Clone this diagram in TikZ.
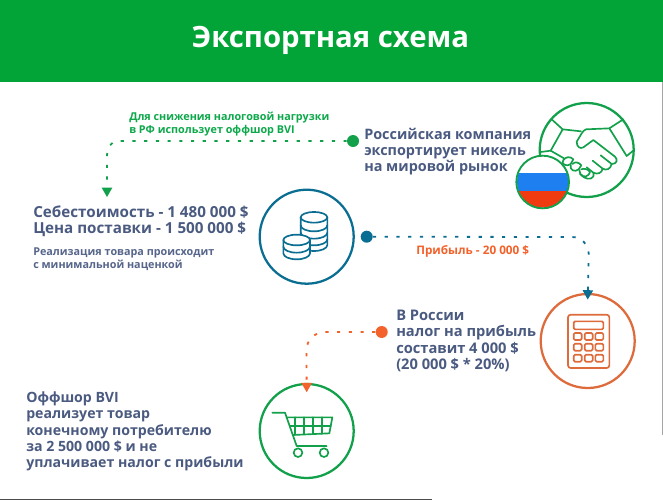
\documentclass[tikz,border=0pt]{standalone}
\usepackage{fontspec}
\usetikzlibrary{arrows.meta}
\setmainfont{Open Sans}
\definecolor{hdr}{HTML}{02A437}
\definecolor{gr}{HTML}{12A04A}
\definecolor{grt}{HTML}{0CA84A}
\definecolor{bl}{HTML}{0A6E92}
\definecolor{org}{HTML}{DE6B3C}
\definecolor{orgd}{HTML}{F4622C}
\definecolor{slate}{HTML}{4A5A80}
\definecolor{slatel}{HTML}{56658A}
\definecolor{flagb}{HTML}{1E80F0}
\definecolor{flagr}{HTML}{F03A10}
\tikzset{
 ring/.style={circle,draw=#1,line width=1.7pt,minimum size=70.5pt,inner sep=0pt,fill=white},
 dotn/.style={circle,fill=#1,minimum size=9pt,inner sep=0pt},
 link/.style={draw=#1,line width=1.35pt,dash pattern=on 2.4pt off 6.4pt,line cap=butt,
   -{Triangle[width=8pt,length=7pt,line width=0pt,fill=#1,color=#1]}},
 big/.style={anchor=west,align=left,inner sep=0pt,font=\fontsize{#1pt}{12.2pt}\selectfont\bfseries,text=slate},
 small/.style={anchor=west,align=left,inner sep=0pt,font=\fontsize{#1pt}{9.8pt}\selectfont\bfseries},
 icon/.style={line width=1.25pt,line join=round,line cap=round},
}
\begin{document}
\begin{tikzpicture}[x=.75pt,y=-.75pt]
\useasboundingbox (0,0) rectangle (663,500);
\fill[white] (0,0) rectangle (663,500);
\fill[hdr] (0,0) rectangle (663,82);
\node[text=white,inner sep=0pt,font=\fontsize{22pt}{26pt}\selectfont\bfseries] (title) at (330.5,40) {Экспортная схема};
% edges of the scan
\fill[black!70] (0,498.6) rectangle (432,500);
\fill[black!35] (661.8,82) rectangle (663,435);

% rings
\node[ring=gr] (hand) at (586.7,150) {};
\node[ring=bl] (coins) at (306.7,236.7) {};
\node[ring=org] (calc) at (587.7,341) {};
\node[ring=gr] (cart) at (306.7,431) {};

% dots
\node[dotn=gr] (dg) at (353,141) {};
\node[dotn=bl] (db) at (366.7,236.7) {};
\node[dotn=orgd] (do) at (381.7,332) {};
\coordinate (tg) at (107,197);

% links
\draw[link=gr] (dg) -- (118,141) to[out=180,in=90] (107,155) -- (tg);
\draw[link=bl] (db) -- (572,237) to[out=0,in=90] (588.7,254) -- ([yshift=-5pt]calc.north);
\draw[link=orgd] (do) -- (325,332) to[out=180,in=90] (306.5,350) -- ([yshift=-7pt]cart.north);

% texts
\node[small=8.1,text=grt] (t1) at (129,124) {Для снижения налоговой нагрузки\\в РФ использует оффшор BVI};
\node[big=10.8] (t2) at (364,151.5) {Российская компания\\экспортирует никель\\на мировой рынок};
\node[big=11.4] (t3) at (33,221) {Себестоимость - 1 480 000 \$\\Цена поставки - 1 500 000 \$};
\node[small=8.1,text=slatel] (t4) at (33,259) {Реализация товара происходит\\с минимальной наценкой};
\node[small=8.8,text=orgd] (t5) at (416,251) {Прибыль - 20 000 \$};
\node[big=11] (t6) at (396,341) {В России\\налог на прибыль\\составит 4 000 \$\\(20 000 \$ * 20\%)};
\node[big=10.6] (t7) at (26,431.5) {Оффшор BVI\\реализует товар\\конечному потребителю\\за 2 500 000 \$ и не\\уплачивает налог с прибыли};

% handshake
\begin{scope}[shift={(480,90)},x=.25pt,y=-.25pt]
 \begin{scope}[icon,draw=gr]
 \draw (215,88) -- (248,118) -- (212,182) -- (182,186);
 \draw (430,88) -- (388,115) -- (440,198) -- (462,180);
 \draw (248,118) -- (303,124);
 \draw (388,115) -- (318,118) .. controls (308,120) and (300,140) .. (290,155) .. controls (290,170) and (300,178) .. (310,172) -- (340,150) -- (405,200) .. controls (415,210) and (410,222) .. (395,222);
 \draw (395,222) -- (362,196);
 \draw (395,222) .. controls (392,238) and (378,242) .. (368,236) -- (338,212);
 \draw (368,236) .. controls (365,250) and (352,254) .. (340,248) -- (320,232);
 \draw (340,248) .. controls (345,268) and (325,270) .. (312,262) -- (300,252);
 \draw (212,182) -- (252,205);
 \draw (250,210) .. controls (240,222) and (262,232) .. (272,222) -- (280,208) .. controls (270,198) and (258,200) .. (250,210);
 \draw (272,225) .. controls (268,240) and (285,248) .. (296,238) -- (304,226) .. controls (296,216) and (284,214) .. (278,222);
 \draw (298,240) .. controls (298,258) and (316,266) .. (326,254) -- (330,246) .. controls (326,238) and (312,234) .. (304,238);
 \end{scope}
 % flag
 \begin{scope}
  \clip (188,276) circle (77);
  \fill[white] (100,190) rectangle (280,248);
  \fill[flagb] (100,248) rectangle (280,303);
  \fill[flagr] (100,303) rectangle (280,360);
 \end{scope}
 \draw[gr,line width=1.4pt] (188,276) circle (79);
\end{scope}

% coins
\begin{scope}[shift={(240,190)},x=.25pt,y=-.25pt,icon,draw=bl]
 \draw (182,82) -- (182,165) arc[start angle=180,end angle=0,x radius=40,y radius=18] -- (262,82);
 \draw (222,82) ellipse[x radius=40,y radius=16];
 \draw (182,106) arc[start angle=180,end angle=0,x radius=40,y radius=18];
 \draw (182,128) arc[start angle=180,end angle=0,x radius=40,y radius=18];
 \draw (182,148) arc[start angle=180,end angle=0,x radius=40,y radius=18];
 \draw[fill=white] (130,150) -- (130,190) arc[start angle=180,end angle=0,x radius=40,y radius=18] -- (210,150);
 \draw[fill=white] (170,150) ellipse[x radius=40,y radius=16];
 \draw (130,170) arc[start angle=180,end angle=0,x radius=40,y radius=18];
\end{scope}

% calculator
\begin{scope}[shift={(520,280)},x=.25pt,y=-.25pt,icon,draw=org]
 \draw[rounded corners=2pt] (144,104) rectangle (268,264);
 \draw[rounded corners=1pt] (161,124) rectangle (250,148);
 \foreach \xa/\xb in {161/185,194/218,226/250}
  \foreach \ya/\yb in {159/180,191/212,224/245}
   \draw[rounded corners=1pt] (\xa,\ya) rectangle (\xb,\yb);
\end{scope}

% cart
\begin{scope}[shift={(240,370)},x=.25pt,y=-.25pt,icon,draw=gr]
 \draw (97,128) -- (135,128) -- (170,228) -- (260,228);
 \draw (140,142) -- (277,142) -- (268,190) -- (158,195);
 \draw (150,167) -- (272,167);
 \foreach \x/\y in {165/194,192/193,218/192,245/191} \draw (\x,142) -- (\x,\y);
 \draw (174,248) circle (13);
 \draw (252,248) circle (13);
\end{scope}
\end{tikzpicture}
\end{document}
